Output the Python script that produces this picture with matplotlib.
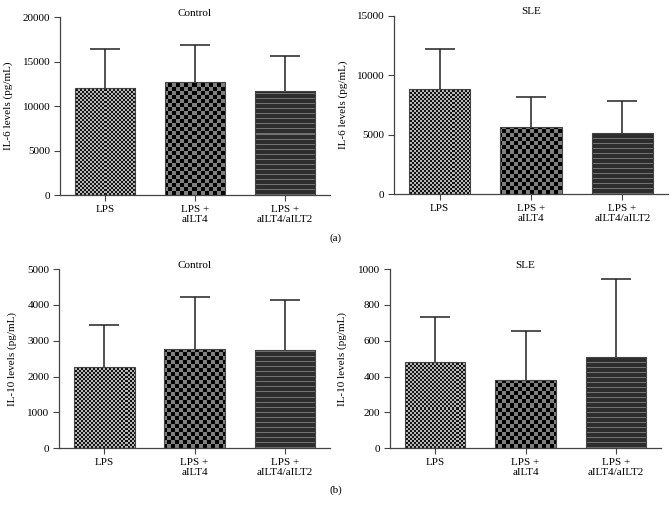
import numpy as np
import matplotlib
matplotlib.use("Agg")
import matplotlib.pyplot as plt

# =====================================================
# DATA
# =====================================================

groups = ["LPS", "LPS +\naILT4", "LPS +\naILT4/aILT2"]

il6_control = [12000, 12650, 11700]
il6_control_err = [4370, 4240, 3920]

il6_sle = [8870, 5630, 5180]
il6_sle_err = [3330, 2520, 2630]

il10_control = [2280, 2780, 2740]
il10_control_err = [1150, 1430, 1390]

il10_sle = [480, 381, 507]
il10_sle_err = [250, 275, 437]

# =====================================================
# STYLE
# =====================================================

plt.rcParams["font.family"] = ["Liberation Serif", "DejaVu Serif"]
plt.rcParams["font.size"] = 8

DPI = 100
SPINE = "#444444"


def texture(kind, w, h):
    # pixel patterns for the three bar fills
    j, i = np.meshgrid(np.arange(w), np.arange(h))
    img = np.zeros((h, w, 3))
    if kind == "fine":
        on = ((i // 2 + j // 2) % 2) == 0
        img[on] = [0.08, 0.08, 0.08]
        img[~on] = [0.72, 0.72, 0.72]
    elif kind == "coarse":
        on = ((i // 4 + j // 4) % 2) == 0
        img[on] = [0.0, 0.0, 0.0]
        img[~on] = [0.5, 0.5, 0.5]
    else:
        on = (i % 5) == 0
        img[:] = [0.18, 0.18, 0.18]
        img[on] = [0.45, 0.45, 0.45]
    return img


def panel(ax, values, errs, ymax, step, title, ylabel, label_x):
    x = np.arange(len(groups))
    ax.set_xlim(-0.5, 2.5)
    ax.set_ylim(0, ymax)

    bars = ax.bar(x, values, width=0.67, color="none", edgecolor=SPINE,
                  linewidth=0.8, zorder=3)
    eb = ax.errorbar(x, values, yerr=[np.zeros(len(values)), errs],
                     fmt="none", ecolor="#222222", elinewidth=1.1,
                     capsize=11, capthick=1.1, zorder=2)
    # only the upper cap is shown
    for cap in eb[1]:
        if np.allclose(cap.get_ydata(), values):
            cap.set_visible(False)

    # fill each bar with its pixel texture, clipped to the bar shape
    bb = ax.get_window_extent()
    w, h = int(round(bb.width)), int(round(bb.height))
    for bar, kind in zip(bars, ["fine", "coarse", "stripes"]):
        im = ax.imshow(texture(kind, w, h), extent=(-0.5, 2.5, 0, ymax),
                       origin="lower", aspect="auto",
                       interpolation="nearest", zorder=2.5)
        im.set_clip_path(bar)
    ax.set_xlim(-0.5, 2.5)
    ax.set_ylim(0, ymax)

    ax.set_xticks(x)
    ax.set_xticklabels(groups, linespacing=1.15)
    ax.set_yticks(np.arange(0, ymax + 1, step))
    ax.tick_params(direction="out", length=4, width=0.8, color=SPINE,
                   pad=3, labelsize=8)
    for s in ["top", "right"]:
        ax.spines[s].set_visible(False)
    for s in ["left", "bottom"]:
        ax.spines[s].set_color(SPINE)
        ax.spines[s].set_linewidth(0.9)

    ax.set_title(title, fontsize=8, pad=1, y=1.0)
    ax.set_ylabel(ylabel, fontsize=8)
    ax.yaxis.set_label_coords(label_x, 0.5)


fig = plt.figure(figsize=(6.72, 5.14), dpi=DPI)

ax1 = fig.add_axes([0.0893, 0.6206, 0.4018, 0.3463])
ax2 = fig.add_axes([0.5863, 0.6220, 0.4077, 0.3475])
ax3 = fig.add_axes([0.0882, 0.1278, 0.4028, 0.3488])
ax4 = fig.add_axes([0.5804, 0.1278, 0.4033, 0.3488])

panel(ax1, il6_control, il6_control_err, 20000, 5000, "Control",
      "IL-6 levels (pg/mL)", -0.174)
panel(ax2, il6_sle, il6_sle_err, 15000, 5000, "SLE",
      "IL-6 levels (pg/mL)", -0.168)
panel(ax3, il10_control, il10_control_err, 5000, 1000, "Control",
      "IL-10 levels (pg/mL)", -0.156)
panel(ax4, il10_sle, il10_sle_err, 1000, 200, "SLE",
      "IL-10 levels (pg/mL)", -0.159)

fig.text(0.5, 1 - 238 / 514, "(a)", ha="center", va="center", fontsize=8)
fig.text(0.5, 1 - 490 / 514, "(b)", ha="center", va="center", fontsize=8)

fig.savefig("out.png", dpi=DPI)
